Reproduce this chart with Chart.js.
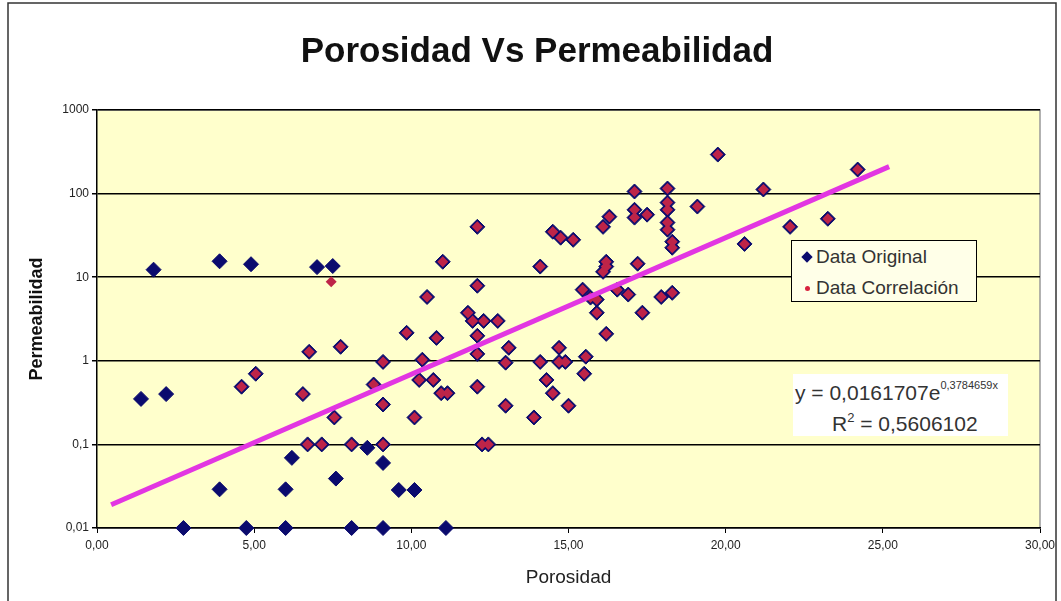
<!DOCTYPE html>
<html>
<head>
<meta charset="utf-8">
<title>Porosidad Vs Permeabilidad</title>
<script src="https://cdn.jsdelivr.net/npm/chart.js@4.4.0/dist/chart.umd.min.js"></script>
<style>
  body { margin: 0; background: #fff; font-family: "Liberation Sans", Arial, sans-serif; }
  #wrap { position: relative; width: 1061px; height: 601px; }
  #title { position: absolute; left: 237px; top: 29px; width: 600px; text-align: center;
           font-size: 35px; font-weight: bold; color: #111; line-height: 42px; white-space: nowrap; }
  #legend { position: absolute; left: 791px; top: 240px; width: 184px; height: 60px;
            border: 1px solid #000; background: #FFFFE8; color: #333; font-size: 19px; }
  .row { position: absolute; left: 0; height: 24px; line-height: 24px; white-space: nowrap; }
  .row span.txt { position: absolute; left: 24px; top: 0; }
  .diamond { position: absolute; left: 11px; top: 8px; width: 8px; height: 8px;
             background: #0B0B6E; transform: rotate(45deg); }
  .dot { position: absolute; left: 13px; top: 10px; width: 5px; height: 5px;
         border-radius: 50%; background: #D8223E; }
  #eq { position: absolute; left: 793px; top: 374px; width: 215px; height: 62px;
        background: #fff; color: #333; font-size: 21px; white-space: nowrap; }
  #eq .l1 { position: absolute; left: 2px; top: 5px; }
  #eq .l2 { position: absolute; left: 39px; top: 36px; }
  #eq sup { font-size: 11px; vertical-align: 11px; }
  #eq sup.r { font-size: 13px; vertical-align: 9px; }
</style>
</head>
<body>
<div id="wrap">
  <canvas id="chart" width="1061" height="601"></canvas>
  <div id="title">Porosidad Vs Permeabilidad</div>
  <div id="legend">
    <div class="row" style="top:4px; width:184px;"><i class="diamond"></i><span class="txt">Data Original</span></div>
    <div class="row" style="top:35px; width:184px;"><i class="dot"></i><span class="txt">Data Correlación</span></div>
  </div>
  <div id="eq">
    <span class="l1">y = 0,0161707e<sup>0,3784659x</sup></span>
    <span class="l2">R<sup class="r">2</sup> = 0,5606102</span>
  </div>
</div>
<script>
// points that only appear as navy diamonds
const origOnlyX = [1.4, 2.2, 1.8, 3.9, 4.9, 7.0, 7.5, 6.2, 3.9, 6.0,
                   2.75, 4.75, 6.0, 8.1, 9.1, 11.1, 8.6, 9.1, 7.6, 9.6, 10.1];
const origOnlyY = [0.35, 0.40, 12.3, 15.5, 14.3, 13.2, 13.6, 0.069, 0.029, 0.029,
                   0.01, 0.01, 0.01, 0.01, 0.01, 0.01, 0.091, 0.06, 0.039, 0.0285, 0.0285];

// points present in both series (maroon look)
const bothX = [4.6, 5.05, 6.55, 6.75, 6.7, 7.15, 7.55, 7.75, 8.1, 8.8,
               9.1, 9.1, 9.1, 9.85, 10.1, 10.25, 10.35, 10.5, 10.7, 10.8,
               10.95, 11.15, 11.0, 11.8, 11.95, 12.1, 12.1, 12.1, 12.1, 12.1,
               12.3, 12.25, 12.45, 12.75, 13.0, 13.0, 13.1, 13.9, 14.1, 14.1,
               14.3, 14.5, 14.5, 14.7, 14.7, 14.75, 14.9, 15.0, 15.15, 15.45,
               15.5, 15.55, 15.7, 15.9, 15.9, 16.1, 16.1, 16.2, 16.2, 16.2,
               16.3, 16.55, 16.9, 17.1, 17.1, 17.1, 17.2, 17.35, 17.5, 17.95,
               18.15, 18.15, 18.15, 18.15, 18.15, 18.3, 18.3, 18.3, 19.1, 19.75,
               20.6, 21.2, 22.05, 23.25, 24.2];
const bothY = [0.49, 0.70, 0.40, 1.28, 0.10, 0.10, 0.21, 1.47, 0.10, 0.52,
               0.10, 0.30, 0.97, 2.16, 0.21, 0.59, 1.03, 5.8, 0.59, 1.88,
               0.41, 0.41, 15.3, 3.75, 3.0, 40, 7.9, 1.99, 1.21, 0.49,
               3.0, 0.10, 0.10, 3.0, 0.95, 0.29, 1.43, 0.21, 13.4, 0.97,
               0.59, 35, 0.41, 1.43, 0.97, 29.7, 0.97, 0.29, 28, 7.1,
               0.70, 1.12, 5.7, 5.4, 3.76, 40, 11.6, 15.3, 13.4, 2.1,
               53, 7.1, 6.2, 106, 64, 51.6, 14.5, 3.76, 56, 5.8,
               115, 78, 64, 45, 37, 26.6, 22.5, 6.5, 70, 293,
               25, 112, 40, 50, 194];

// correlation point with no original marker under it
const corrOnlyX = [7.45];
const corrOnlyY = [8.8];

// trend line ends
const trendX = [0.45, 25.2];
const trendY = [0.019, 210];

const xTicks = [0, 5, 10, 15, 20, 25, 30];
const xTickLabels = ['0,00', '5,00', '10,00', '15,00', '20,00', '25,00', '30,00'];
const yTicks = [0.01, 0.1, 1, 10, 100, 1000];
const yTickLabels = ['0,01', '0,1', '1', '10', '100', '1000'];

function toPoints(xs, ys) {
    return xs.map((x, i) => ({ x: x, y: ys[i] }));
}

const origPoints = toPoints(origOnlyX, origOnlyY).concat(toPoints(bothX, bothY));
const corrPoints = toPoints(bothX, bothY).concat(toPoints(corrOnlyX, corrOnlyY));

// plot background, frame
const backdrop = {
    id: 'backdrop',
    beforeDraw(chart) {
        const { ctx, chartArea: a } = chart;
        ctx.save();
        ctx.fillStyle = '#fff';
        ctx.fillRect(0, 0, chart.width, chart.height);
        ctx.fillStyle = '#FFFFCC';
        ctx.fillRect(a.left, a.top, a.right - a.left, a.bottom - a.top);
        ctx.strokeStyle = '#999';
        ctx.lineWidth = 1.5;
        ctx.beginPath();
        ctx.moveTo(a.left, a.top);
        ctx.lineTo(a.right, a.top);
        ctx.lineTo(a.right, a.bottom);
        ctx.stroke();
        ctx.strokeStyle = '#333';
        ctx.lineWidth = 1.5;
        ctx.strokeRect(8, 3, 1048, 610);
        ctx.restore();
    }
};

const ctx = document.getElementById('chart').getContext('2d');
const chart = new Chart(ctx, {
    type: 'scatter',
    data: {
        datasets: [
            {
                label: 'Tendencia',
                data: toPoints(trendX, trendY),
                showLine: true,
                borderColor: '#E236E2',
                borderWidth: 5,
                pointRadius: 0,
                clip: false
            },
            {
                label: 'Data Correlación',
                data: corrPoints,
                pointStyle: 'rectRot',
                pointRadius: 5.5,
                backgroundColor: '#BE2448',
                borderWidth: 0,
                clip: false
            },
            {
                label: 'Data Original',
                data: origPoints,
                pointStyle: 'rectRot',
                pointRadius: 7.5,
                backgroundColor: '#0B0B6E',
                borderColor: '#0B0B6E',
                borderWidth: 1,
                clip: false
            }
        ]
    },
    options: {
        responsive: false,
        animation: false,
        layout: { padding: { left: 10, right: 21, top: 110, bottom: 4 } },
        plugins: {
            legend: { display: false },
            tooltip: { enabled: false },
            title: { display: false }
        },
        scales: {
            x: {
                type: 'linear',
                min: 0,
                max: 30,
                afterBuildTicks: s => { s.ticks = xTicks.map(v => ({ value: v })); },
                afterFit: s => { s.height = 69; },
                ticks: {
                    callback: (v, i) => xTickLabels[i],
                    color: '#222',
                    font: { family: '"Liberation Sans", Arial, sans-serif', size: 12 },
                    padding: 5,
                    maxRotation: 0
                },
                grid: { drawOnChartArea: false, drawTicks: true, tickLength: 5, color: '#000', lineWidth: 1 },
                border: { color: '#000', width: 1.5 },
                title: {
                    display: true,
                    text: 'Porosidad',
                    color: '#222',
                    font: { family: '"Liberation Sans", Arial, sans-serif', size: 19 },
                    padding: { top: 0, bottom: 7.6 }
                }
            },
            y: {
                type: 'logarithmic',
                min: 0.01,
                max: 1000,
                afterBuildTicks: s => { s.ticks = yTicks.map(v => ({ value: v })); },
                afterFit: s => { s.width = 87; },
                ticks: {
                    callback: (v, i) => yTickLabels[i],
                    color: '#222',
                    font: { family: '"Liberation Sans", Arial, sans-serif', size: 12 },
                    padding: 3
                },
                grid: { color: '#000', lineWidth: 1.5, tickLength: 5 },
                border: { color: '#000', width: 1.5 },
                title: {
                    display: true,
                    text: 'Permeabilidad',
                    color: '#111',
                    font: { family: '"Liberation Sans", Arial, sans-serif', size: 18, weight: 'bold' },
                    padding: { top: 16, bottom: 0 }
                }
            }
        }
    },
    plugins: [backdrop]
});
</script>
</body>
</html>
